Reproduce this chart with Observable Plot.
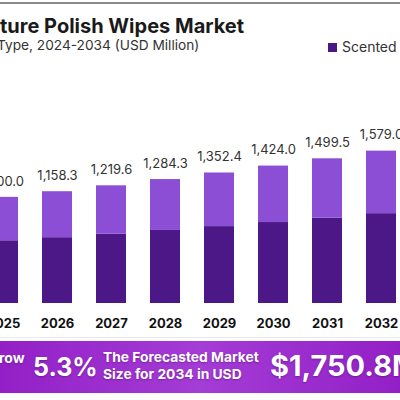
<!DOCTYPE html>
<html><head><meta charset="utf-8">
<script src="https://cdn.jsdelivr.net/npm/d3@7"></script>
<script src="https://cdn.jsdelivr.net/npm/@observablehq/plot@0.6"></script>
<style>
html,body{margin:0;padding:0;background:#fff;overflow:hidden}
#page{position:relative;width:400px;height:400px;overflow:hidden;font-family:Inter,"Open Sans",sans-serif;background:#fff}
#topline{position:absolute;left:0;top:2px;width:400px;height:2px;background:#8c8c8c}
#title{position:absolute;left:0;top:16px;font-size:20px;line-height:1;font-weight:700;color:#1a1a1a;white-space:nowrap}
#subtitle{position:absolute;left:-3px;top:39px;font-size:13.7px;line-height:1;color:#333;white-space:nowrap}
#legend{position:absolute;left:328px;top:40px;font-size:14px;line-height:14px;color:#333;white-space:nowrap;display:flex;align-items:center}
#legend .sw{width:9px;height:9px;margin-right:5px}
#chart{position:absolute;left:0;top:70px;width:400px;height:268px;overflow:hidden}
#sep{position:absolute;left:0;top:337px;width:400px;height:1px;background:#e8e8e8}
#banner{position:absolute;left:0;top:341px;width:400px;height:52px;background:linear-gradient(90deg,#9320c6 0%,#a43cd6 50%,#9320c6 100%);color:#fff;font-weight:700;overflow:hidden}
#banner div{position:absolute;white-space:nowrap;line-height:1;text-shadow:0 1px 2px rgba(40,0,60,0.35)}
</style>
</head><body>
<div id="page">
  <div id="topline"></div>
  <div id="title">ture Polish Wipes Market</div>
  <div id="subtitle">Type, 2024-2034 (USD Million)</div>
  <div id="legend"></div>
  <div id="chart"></div>
  <div id="sep"></div>
  <div id="banner">
    <div style="left:-1px;top:10px;font-size:14px">row</div>
    <div style="left:33px;top:14px;font-size:25px">5.3%</div>
    <div style="left:103px;top:10px;font-size:13.8px">The Forecasted Market</div>
    <div style="left:103px;top:27px;font-size:13.8px">Size for 2034 in USD</div>
    <div style="left:270px;top:10px;font-size:29px">$1,750.8M</div>
  </div>
</div>
<script>
const years = ["2025","2026","2027","2028","2029","2030","2031","2032"];
const totals = [1100.0, 1158.3, 1219.6, 1284.3, 1352.4, 1424.0, 1499.5, 1579.0];
const scented = [650, 682, 718, 757, 797, 839, 884, 931];
const seriesNames = ["Scented", "Unscented"];
const seriesColors = ["#4c1787", "#8b4ed4"];
const legendShown = ["Scented"];

const rows = [];
years.forEach((y, i) => {
  rows.push({year: y, series: seriesNames[0], value: scented[i]});
  rows.push({year: y, series: seriesNames[1], value: totals[i] - scented[i]});
});
const fmt = d3.format(",.1f");

const lg = document.getElementById("legend");
legendShown.forEach(name => {
  const sw = document.createElement("span");
  sw.className = "sw";
  sw.style.background = seriesColors[seriesNames.indexOf(name)];
  const t = document.createElement("span");
  t.textContent = name;
  lg.appendChild(sw); lg.appendChild(t);
});

const chart = Plot.plot({
  width: 400, height: 268,
  marginTop: 40, marginBottom: 35, marginLeft: 0, marginRight: 0,
  x: {domain: years, range: [-25.07, 408.07], paddingInner: 0.446, paddingOuter: 0.223, align: 0.5, label: null},
  y: {domain: [0, 2000], axis: null},
  color: {domain: seriesNames, range: seriesColors},
  style: {fontFamily: "Inter, 'Open Sans', sans-serif", background: "transparent", overflow: "hidden"},
  marks: [
    Plot.barY(rows, {x: "year", y: "value", fill: "series"}),
    Plot.text(years, {x: d => d, y: (d, i) => totals[i], text: (d, i) => fmt(totals[i]), dy: -16, fontSize: 13, fill: "#333"}),
    Plot.axisX({tickSize: 0, tickPadding: 15, fontSize: 13, fontWeight: "bold", fill: "#111", label: null})
  ]
});
document.getElementById("chart").appendChild(chart);
</script>
</body></html>
